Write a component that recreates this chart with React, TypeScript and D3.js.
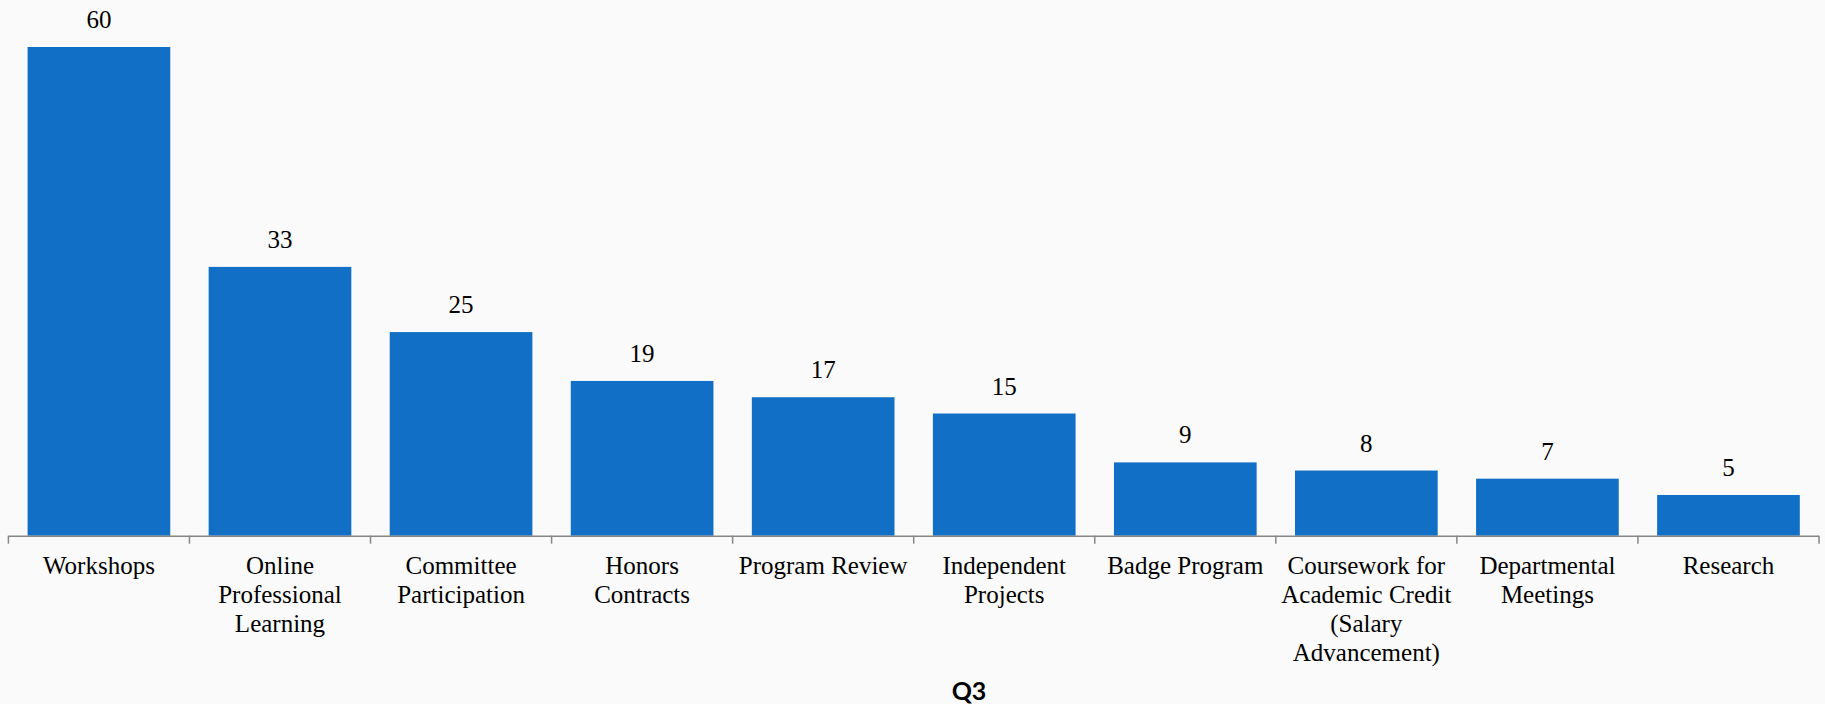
import React from "react";
import * as d3 from "d3";

const categories: string[] = [
  "Workshops",
  "Online\nProfessional\nLearning",
  "Committee\nParticipation",
  "Honors\nContracts",
  "Program Review",
  "Independent\nProjects",
  "Badge Program",
  "Coursework for\nAcademic Credit\n(Salary\nAdvancement)",
  "Departmental\nMeetings",
  "Research",
];
const values: number[] = [60, 33, 25, 19, 17, 15, 9, 8, 7, 5];
const chartTitle = "Q3";

const W = 1825;
const H = 704;
const BAR = "#1170c6";
const SERIF = "'Liberation Serif', 'Times New Roman', serif";

export default function App() {
  const x = d3
    .scaleBand<number>()
    .domain(d3.range(categories.length))
    .range([8.4, 1819])
    .paddingInner(0.212)
    .paddingOuter(0.106);
  const y = d3.scaleLinear().domain([0, 60]).range([535.7, 47]);
  const step = x.step();
  const x0 = 8.4;
  const ticks = d3.range(categories.length + 1).map((i) => x0 + i * step);

  return (
    <svg
      width={W}
      height={H}
      style={{ position: "fixed", left: 0, top: 0, background: "#fafafa" }}
    >
      <rect x={0} y={0} width={W} height={H} fill="#fafafa" />
      {values.map((v, i) => (
        <g key={i}>
          <rect
            x={x(i)!}
            y={y(v)}
            width={x.bandwidth()}
            height={y(0) - y(v)}
            fill={BAR}
          />
          <text
            x={x(i)! + x.bandwidth() / 2}
            y={y(v) - 19}
            textAnchor="middle"
            fontFamily={SERIF}
            fontSize={25}
            fill="#000"
          >
            {v}
          </text>
        </g>
      ))}
      <line
        x1={x0}
        x2={ticks[ticks.length - 1]}
        y1={y(0) + 0.5}
        y2={y(0) + 0.5}
        stroke="#868686"
        strokeWidth={1.5}
      />
      {ticks.map((t, i) => (
        <line
          key={i}
          x1={t}
          x2={t}
          y1={y(0)}
          y2={y(0) + 8}
          stroke="#868686"
          strokeWidth={1.5}
        />
      ))}
      {categories.map((c, i) => (
        <text
          key={i}
          x={x(i)! + x.bandwidth() / 2}
          y={574}
          textAnchor="middle"
          fontFamily={SERIF}
          fontSize={25}
          fill="#000"
        >
          {c.split("\n").map((line, j) => (
            <tspan key={j} x={x(i)! + x.bandwidth() / 2} y={574 + j * 29}>
              {line}
            </tspan>
          ))}
        </text>
      ))}
      <text
        x={969}
        y={700}
        textAnchor="middle"
        fontFamily="Lato, 'Open Sans', sans-serif"
        fontWeight={700}
        fontSize={25}
        fill="#000"
      >
        {chartTitle}
      </text>
    </svg>
  );
}
